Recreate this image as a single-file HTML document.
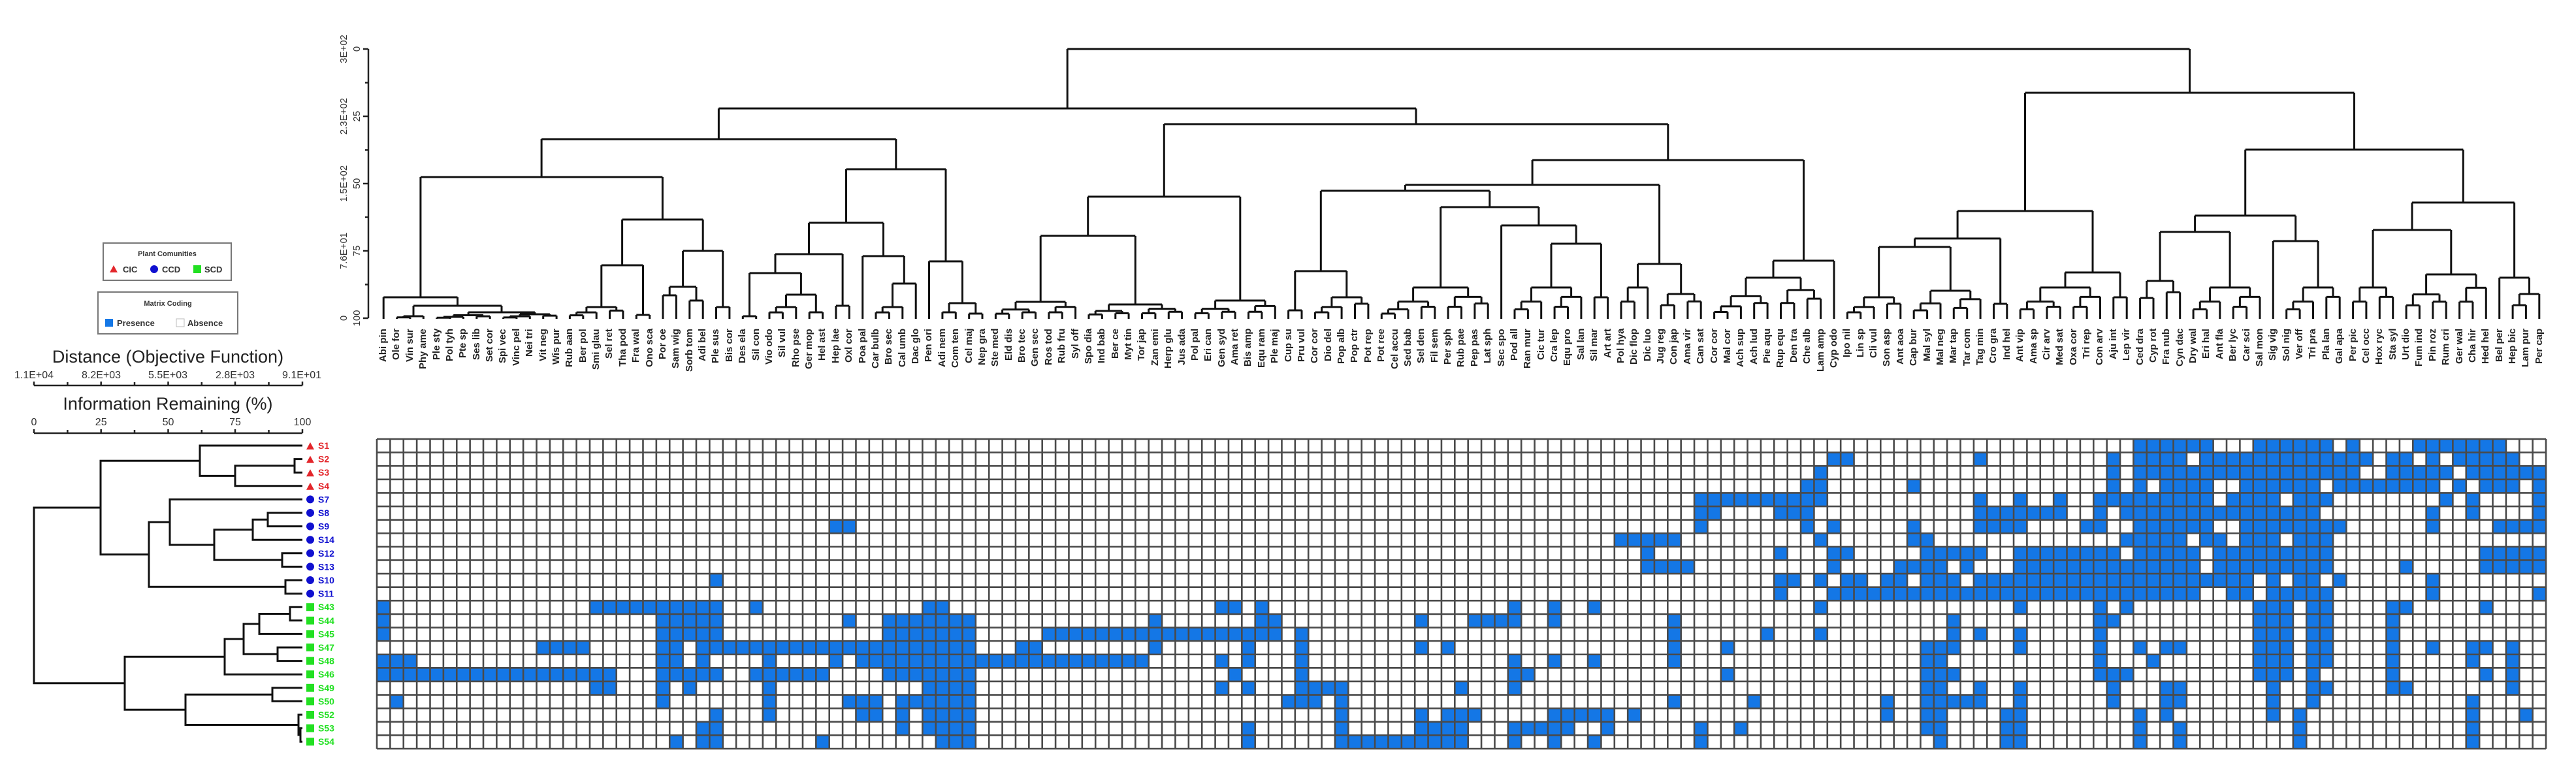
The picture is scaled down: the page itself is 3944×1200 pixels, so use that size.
<!DOCTYPE html>
<html><head><meta charset="utf-8">
<style>
html,body{margin:0;padding:0;background:#fff;}
#wrap{position:relative;width:3944px;height:1200px;overflow:hidden;background:#fff;font-family:"Liberation Sans",sans-serif;}
svg{position:absolute;left:0;top:0;}
#labels{position:absolute;left:577px;top:503px;width:3321px;height:100px;display:flex;}
#labels span{flex:1 1 0;min-width:0;height:100px;writing-mode:vertical-rl;transform:rotate(180deg);text-align:end;font:bold 15px "Liberation Sans",sans-serif;color:#222;line-height:20px;white-space:nowrap;overflow:visible;}
</style></head>
<body><div id="wrap">
<svg id="s" width="3944" height="1200" viewBox="0 0 3944 1200" xmlns="http://www.w3.org/2000/svg" font-family="Liberation Sans, sans-serif">
<!-- legend boxes -->
<rect x="158" y="372" width="196" height="57" fill="#fff" stroke="#777" stroke-width="2"/>
<text x="256" y="392" font-size="11" font-weight="bold" text-anchor="middle" fill="#333">Plant Comunities</text>
<polygon points="168,417 180,417 174,406" fill="#e3262b"/>
<text x="188" y="417" font-size="13" font-weight="bold" fill="#333">CIC</text>
<circle cx="236" cy="412" r="6" fill="#1010d0"/>
<text x="248" y="417" font-size="13" font-weight="bold" fill="#333">CCD</text>
<rect x="296" y="406" width="12" height="12" fill="#22e022"/>
<text x="313" y="417" font-size="13" font-weight="bold" fill="#333">SCD</text>
<rect x="150" y="447" width="214" height="64" fill="#fff" stroke="#777" stroke-width="2"/>
<text x="257" y="468" font-size="11" font-weight="bold" text-anchor="middle" fill="#333">Matrix Coding</text>
<rect x="161" y="488" width="12" height="12" fill="#1477e6"/>
<text x="179" y="499" font-size="13" font-weight="bold" fill="#333">Presence</text>
<rect x="270" y="488" width="12" height="12" fill="#fff" stroke="#bbb"/>
<text x="287" y="499" font-size="13" font-weight="bold" fill="#333">Absence</text>
<!-- left axes -->
<text x="257" y="555" font-size="27" text-anchor="middle" fill="#222">Distance (Objective Function)</text>
<g font-size="16" text-anchor="middle" fill="#333">
<text x="52" y="579">1.1E+04</text><text x="155" y="579">8.2E+03</text><text x="257" y="579">5.5E+03</text><text x="360" y="579">2.8E+03</text><text x="462" y="579">9.1E+01</text>
</g>
<path d="M52 590 H463 M52 584 V590 M103.4 585 V590 M154.7 584 V590 M206 585 V590 M257.5 584 V590 M308.8 585 V590 M360 584 V590 M411.5 585 V590 M463 584 V590" stroke="#222" stroke-width="2.5" fill="none"/>
<text x="257" y="627" font-size="27" text-anchor="middle" fill="#222">Information Remaining (%)</text>
<g font-size="16" text-anchor="middle" fill="#333">
<text x="52" y="651">0</text><text x="154.7" y="651">25</text><text x="257.5" y="651">50</text><text x="360" y="651">75</text><text x="463" y="651">100</text>
</g>
<path d="M52 663 H463 M52 657 V663 M103.4 658 V663 M154.7 657 V663 M206 658 V663 M257.5 657 V663 M308.8 658 V663 M360 657 V663 M411.5 658 V663 M463 657 V663" stroke="#222" stroke-width="2.5" fill="none"/>
<!-- left dendrogram -->
<path fill="none" stroke="#111" stroke-width="3" d="
M463 702.6 H451 V723.2 H463
M451 712.9 H360 V743.8 H463
M463 682 H306 V728.4 H360
M463 785 H410 V805.6 H463
M410 795.3 H387 V826.2 H463
M463 846.8 H432 V867.4 H463
M387 810.8 H328 V857.1 H432
M463 764.4 H260 V834 H328
M463 888 H437 V908.6 H463
M260 799.2 H228 V898.3 H437
M306 705.2 H154 V848.8 H228
M463 929.2 H444 V949.8 H463
M444 939.5 H397 V970.4 H463
M463 991 H425 V1011.6 H463
M397 955 H373 V1001.3 H425
M373 978.1 H344 V1032.2 H463
M463 1052.8 H417 V1073.4 H463
M463 1114.6 H460 V1135.2 H463
M463 1094 H457 V1124.9 H460
M417 1063.1 H284 V1109.5 H457
M344 1005.2 H191 V1086.3 H284
M154 777 H52 V1045.7 H191"/>
<g font-size="14" font-weight="bold">
<polygon points="469,688 481,688 475,677" fill="#e3262b"/><text x="487" y="687" fill="#e3262b">S1</text>
<polygon points="469,708.6 481,708.6 475,697.6" fill="#e3262b"/><text x="487" y="707.6" fill="#e3262b">S2</text>
<polygon points="469,729.2 481,729.2 475,718.2" fill="#e3262b"/><text x="487" y="728.2" fill="#e3262b">S3</text>
<polygon points="469,749.8 481,749.8 475,738.8" fill="#e3262b"/><text x="487" y="748.8" fill="#e3262b">S4</text>
<g fill="#1010d0">
<circle cx="475" cy="764.4" r="6"/><text x="487" y="769.4">S7</text>
<circle cx="475" cy="785" r="6"/><text x="487" y="790">S8</text>
<circle cx="475" cy="805.6" r="6"/><text x="487" y="810.6">S9</text>
<circle cx="475" cy="826.2" r="6"/><text x="487" y="831.2">S14</text>
<circle cx="475" cy="846.8" r="6"/><text x="487" y="851.8">S12</text>
<circle cx="475" cy="867.4" r="6"/><text x="487" y="872.4">S13</text>
<circle cx="475" cy="888" r="6"/><text x="487" y="893">S10</text>
<circle cx="475" cy="908.6" r="6"/><text x="487" y="913.6">S11</text>
</g>
<g fill="#22e022">
<rect x="469" y="923.2" width="12" height="12"/><text x="487" y="934.2">S43</text>
<rect x="469" y="943.8" width="12" height="12"/><text x="487" y="954.8">S44</text>
<rect x="469" y="964.4" width="12" height="12"/><text x="487" y="975.4">S45</text>
<rect x="469" y="985" width="12" height="12"/><text x="487" y="996">S47</text>
<rect x="469" y="1005.6" width="12" height="12"/><text x="487" y="1016.6">S48</text>
<rect x="469" y="1026.2" width="12" height="12"/><text x="487" y="1037.2">S46</text>
<rect x="469" y="1046.8" width="12" height="12"/><text x="487" y="1057.8">S49</text>
<rect x="469" y="1067.4" width="12" height="12"/><text x="487" y="1078.4">S50</text>
<rect x="469" y="1088" width="12" height="12"/><text x="487" y="1099">S52</text>
<rect x="469" y="1108.6" width="12" height="12"/><text x="487" y="1119.6">S53</text>
<rect x="469" y="1129.2" width="12" height="12"/><text x="487" y="1140.2">S54</text>
</g>
</g>
<!-- top axis -->
<path d="M564 75 V487 M556 75 H564 M559 126.5 H564 M556 178 H564 M559 229.5 H564 M556 281 H564 M559 332.5 H564 M556 384 H564 M559 435.5 H564 M556 487 H564" stroke="#222" stroke-width="2.5" fill="none"/>
<g font-size="15" fill="#333" text-anchor="middle">
<text transform="translate(531,75) rotate(-90)">3E+02</text>
<text transform="translate(531,178) rotate(-90)">2.3E+02</text>
<text transform="translate(531,281) rotate(-90)">1.5E+02</text>
<text transform="translate(531,384) rotate(-90)">7.6E+01</text>
<text transform="translate(531,487) rotate(-90)">0</text>
<text transform="translate(551,75) rotate(-90)">0</text>
<text transform="translate(551,178) rotate(-90)">25</text>
<text transform="translate(551,281) rotate(-90)">50</text>
<text transform="translate(551,384) rotate(-90)">75</text>
<text transform="translate(551,487) rotate(-90)">100</text>
</g>
<g id="dend"></g>
<g id="mat"></g>
</svg>
<div id="labels"><span>Abi pin</span><span>Ole for</span><span>Vin sur</span><span>Phy ame</span><span>Ple sty</span><span>Pol tyh</span><span>Pte sp</span><span>Ses lib</span><span>Set cor</span><span>Spi vec</span><span>Vinc pel</span><span>Nei tri</span><span>Vit neg</span><span>Wis pur</span><span>Rub aan</span><span>Ber pol</span><span>Smi glau</span><span>Sel ret</span><span>Tha pod</span><span>Fra wal</span><span>Ono sca</span><span>Por oe</span><span>Sam wig</span><span>Sorb tom</span><span>Adi bel</span><span>Ple sus</span><span>Bis cor</span><span>Des ela</span><span>Sil con</span><span>Vio odo</span><span>Sil vul</span><span>Rho pse</span><span>Ger mop</span><span>Hel ast</span><span>Hep lae</span><span>Oxl cor</span><span>Poa pal</span><span>Car bulb</span><span>Bro sec</span><span>Cal umb</span><span>Dac glo</span><span>Pen ori</span><span>Adi nem</span><span>Com ten</span><span>Cel maj</span><span>Nep gra</span><span>Ste med</span><span>Eld dis</span><span>Bro tec</span><span>Gen sec</span><span>Ros tod</span><span>Rub fru</span><span>Syl off</span><span>Spo dia</span><span>Ind bab</span><span>Ber ce</span><span>Myt tin</span><span>Tor jap</span><span>Zan emi</span><span>Herp glu</span><span>Jus ada</span><span>Pol pal</span><span>Eri can</span><span>Gen syd</span><span>Ama ret</span><span>Bis amp</span><span>Equ ram</span><span>Ple maj</span><span>Cup su</span><span>Pru vul</span><span>Cor cor</span><span>Dio del</span><span>Pop alb</span><span>Pop ctr</span><span>Pot rep</span><span>Pot ree</span><span>Cel accu</span><span>Sed bab</span><span>Sel den</span><span>Fil sem</span><span>Per sph</span><span>Rub pae</span><span>Pep pas</span><span>Lat sph</span><span>Sec spo</span><span>Pod all</span><span>Ran mur</span><span>Cic tur</span><span>Cra lep</span><span>Equ pro</span><span>Sal lan</span><span>Sil mar</span><span>Art art</span><span>Pol hya</span><span>Dic flop</span><span>Dic luo</span><span>Jug reg</span><span>Con jap</span><span>Ama vir</span><span>Can sat</span><span>Cor cor</span><span>Mal cor</span><span>Ach sup</span><span>Ach lud</span><span>Pie aqu</span><span>Rup equ</span><span>Den tra</span><span>Che alb</span><span>Lam amp</span><span>Cyp odo</span><span>Ipo nil</span><span>Lin sp</span><span>Cli vul</span><span>Son asp</span><span>Ant aoa</span><span>Cap bur</span><span>Mal syl</span><span>Mal neg</span><span>Mar tap</span><span>Tar com</span><span>Tag min</span><span>Cro gra</span><span>Ind hel</span><span>Ant vip</span><span>Ama sp</span><span>Cir arv</span><span>Med sat</span><span>Oxa cor</span><span>Tri rep</span><span>Con arv</span><span>Aju int</span><span>Lep vir</span><span>Ced dra</span><span>Cyp rot</span><span>Fra nub</span><span>Cyn dac</span><span>Dry wal</span><span>Eri hal</span><span>Ant fla</span><span>Ber lyc</span><span>Car sci</span><span>Sal mon</span><span>Sig vig</span><span>Sol nig</span><span>Ver off</span><span>Tri pra</span><span>Pla lan</span><span>Gal apa</span><span>Per pic</span><span>Cel occ</span><span>Hox ryc</span><span>Sta syl</span><span>Urt dio</span><span>Fum ind</span><span>Pin roz</span><span>Rum cri</span><span>Ger wal</span><span>Cha hir</span><span>Hed hel</span><span>Bel per</span><span>Hep bic</span><span>Lam pur</span><span>Per cap</span></div>
</div>
<script>
(function(){
var NS="http://www.w3.org/2000/svg";
var MX=577, MY=672, CW=3321/163, CH=474/23;
var L0=MX+CW/2, LEAFY=488;
function g(a,b,y){ if(a==b) return a; var m=Math.floor((a+b)/2); var y1=y+(LEAFY-y)*0.45, y2=y+(LEAFY-y)*0.3; return [y, g(a,m,y1), g(m+1,b,y2)]; }
var d=[];
function draw(n){
  if(typeof n==="number") return {x:L0+CW*n, y:LEAFY};
  var y=n[0], kids=[];
  for(var i=1;i<n.length;i++) kids.push(draw(n[i]));
  var x1=kids[0].x, x2=kids[kids.length-1].x;
  d.push("M"+x1.toFixed(1)+" "+y.toFixed(1)+"H"+x2.toFixed(1));
  kids.forEach(function(k){ d.push("M"+k.x.toFixed(1)+" "+y.toFixed(1)+"V"+k.y.toFixed(1)); });
  return {x:(x1+x2)/2, y:y};
}
var A=[455,0,[468,g(1,3,484),g(4,13,478)]];
var B=[336,[406,g(14,18,470),g(19,20,482)],[384,[439,[452,21,22],[460,23,24]],g(25,26,470)]];
var LLL=[271,A,B];
var LLR1=[341,[389,[418,g(27,28,484),[451,g(29,31,470),g(32,33,478)]],g(34,35,468)],[392,36,[434,g(37,39,470),40]]];
var LLR2=[400,41,[464,g(42,43,478),g(44,45,480)]];
var LL=[213,LLL,[259,LLR1,LLR2]];
var LR1=[301,[361,g(46,52,462),g(53,60,466)],g(61,67,460)];
var X=[415,g(68,69,475),g(70,74,455)];
var Y=[317,g(75,83,440),[345,84,[373,g(85,90,440),g(91,92,455)]]];
var LR2a=[283,[292,X,Y],[404,g(93,95,440),g(96,99,450)]];
var LR2b=[399,g(100,108,425),109];
var LR=[190,LR1,[245,LR2a,LR2b]];
var L=[166,LL,LR];
var R1a=[365,[378,g(110,114,455),g(115,120,445)],g(121,122,465)];
var R1b=[417,g(123,129,440),g(130,131,455)];
var R2a=[330,[355,g(132,135,430),g(136,141,440)],[369,142,g(143,147,440)]];
var R2b=[310,[352,g(148,151,440),g(152,158,420)],[425,159,g(160,162,450)]];
var R=[142,[323,R1a,R1b],[229,R2a,R2b]];
draw([75,L,R]);
var p=document.createElementNS(NS,"path");
p.setAttribute("d",d.join(""));p.setAttribute("fill","none");p.setAttribute("stroke","#111");p.setAttribute("stroke-width","3");
document.getElementById("dend").appendChild(p);

var rows=[
"132-137,141-146,148,153-159",
"109-110,120,130,132-135,137-149,151-152,154,156-160",
"108,130,132-148,151-155,157-162",
"107-108,115,130,132,134-137,140-145,147-154,156,158-160,162",
"99-108,120,123,126,129-137,139-142,144-146,155,157,162",
"99-100,105-107,120-126,129,131-145,154,157,162",
"34-35,99,107,109,115,120-123,128-129,132-137,140-147,154,159-162",
"93-97,108,115-116,131-135,137-138,140-142,144-146",
"95,105,109-110,116-120,123-130,132-136,138-146,158-162",
"95-98,109,114-117,119,123-136,138-146,152,158-162",
"25,105-106,108,110-111,113-114,116-118,120-140,142,144-145,147,154",
"105,109-136,139-140,142-146,154,162",
"0,16-25,28,41-42,63-64,66,85,88,91,108,123,129,131,141-143,145-146,151-152,158",
"0,21-25,35,38-44,58,66-67,78,82-85,88,97,118,129-130,141-143,145-146,151",
"0,21-25,38-44,50-67,69,97,104,108,118,120,123,129,141-143,145-146,151",
"12-15,21-22,24-44,48-49,58,65,69,78,80,97,101,116-118,123,129,132,134-135,141-143,145-146,151,154,157-158,160",
"0-2,21-22,24,29,34,36-57,63,65,69,85,88,91,97,116-117,129,133,141-143,145-146,151,157,160",
"0-17,21-25,28-33,38-44,64,69,85-86,101,116-118,129-131,141-143,145,151,158,160",
"16-17,21,23,29,41-44,63,65,69-72,81,85,116-117,120,123,130,134-135,142,145-146,151-152,160",
"1,21,29,35-37,39-44,68-70,72,97,103,113,116-120,123,130,134-135,142,145,157",
"25,29,36-37,39,41-44,72,78,80-82,88-92,94,113,116-117,122-123,132,134,142,144,157,161",
"24-25,39,41-44,65,72,78-81,85-89,92,99,102,116-117,122-123,132,135,144,157",
"22,24-25,33,42-44,65,72-81,85,88,91,99,117,122-123,132,135,144,157"
];
var m=document.getElementById("mat"), h=[];
h.push('<rect x="'+MX+'" y="'+MY+'" width="3321" height="474" fill="#fff"/>');
rows.forEach(function(r,ri){
  r.split(",").forEach(function(s){
    var q=s.split("-"), a=+q[0], b=q.length>1?+q[1]:a;
    h.push('<rect x="'+(MX+a*CW).toFixed(2)+'" y="'+(MY+ri*CH).toFixed(2)+'" width="'+((b-a+1)*CW).toFixed(2)+'" height="'+CH.toFixed(2)+'" fill="#1477e6"/>');
  });
});
var gd="";
for(var i=0;i<=163;i++){ var x=(MX+i*CW).toFixed(2); gd+="M"+x+" "+MY+"V"+(MY+474); }
for(var j=0;j<=23;j++){ var y=(MY+j*CH).toFixed(2); gd+="M"+MX+" "+y+"H"+(MX+3321); }
h.push('<path d="'+gd+'" stroke="#4a4a4a" stroke-width="2.6" fill="none"/>');
m.innerHTML=h.join("");
})();
</script>
</body></html>
